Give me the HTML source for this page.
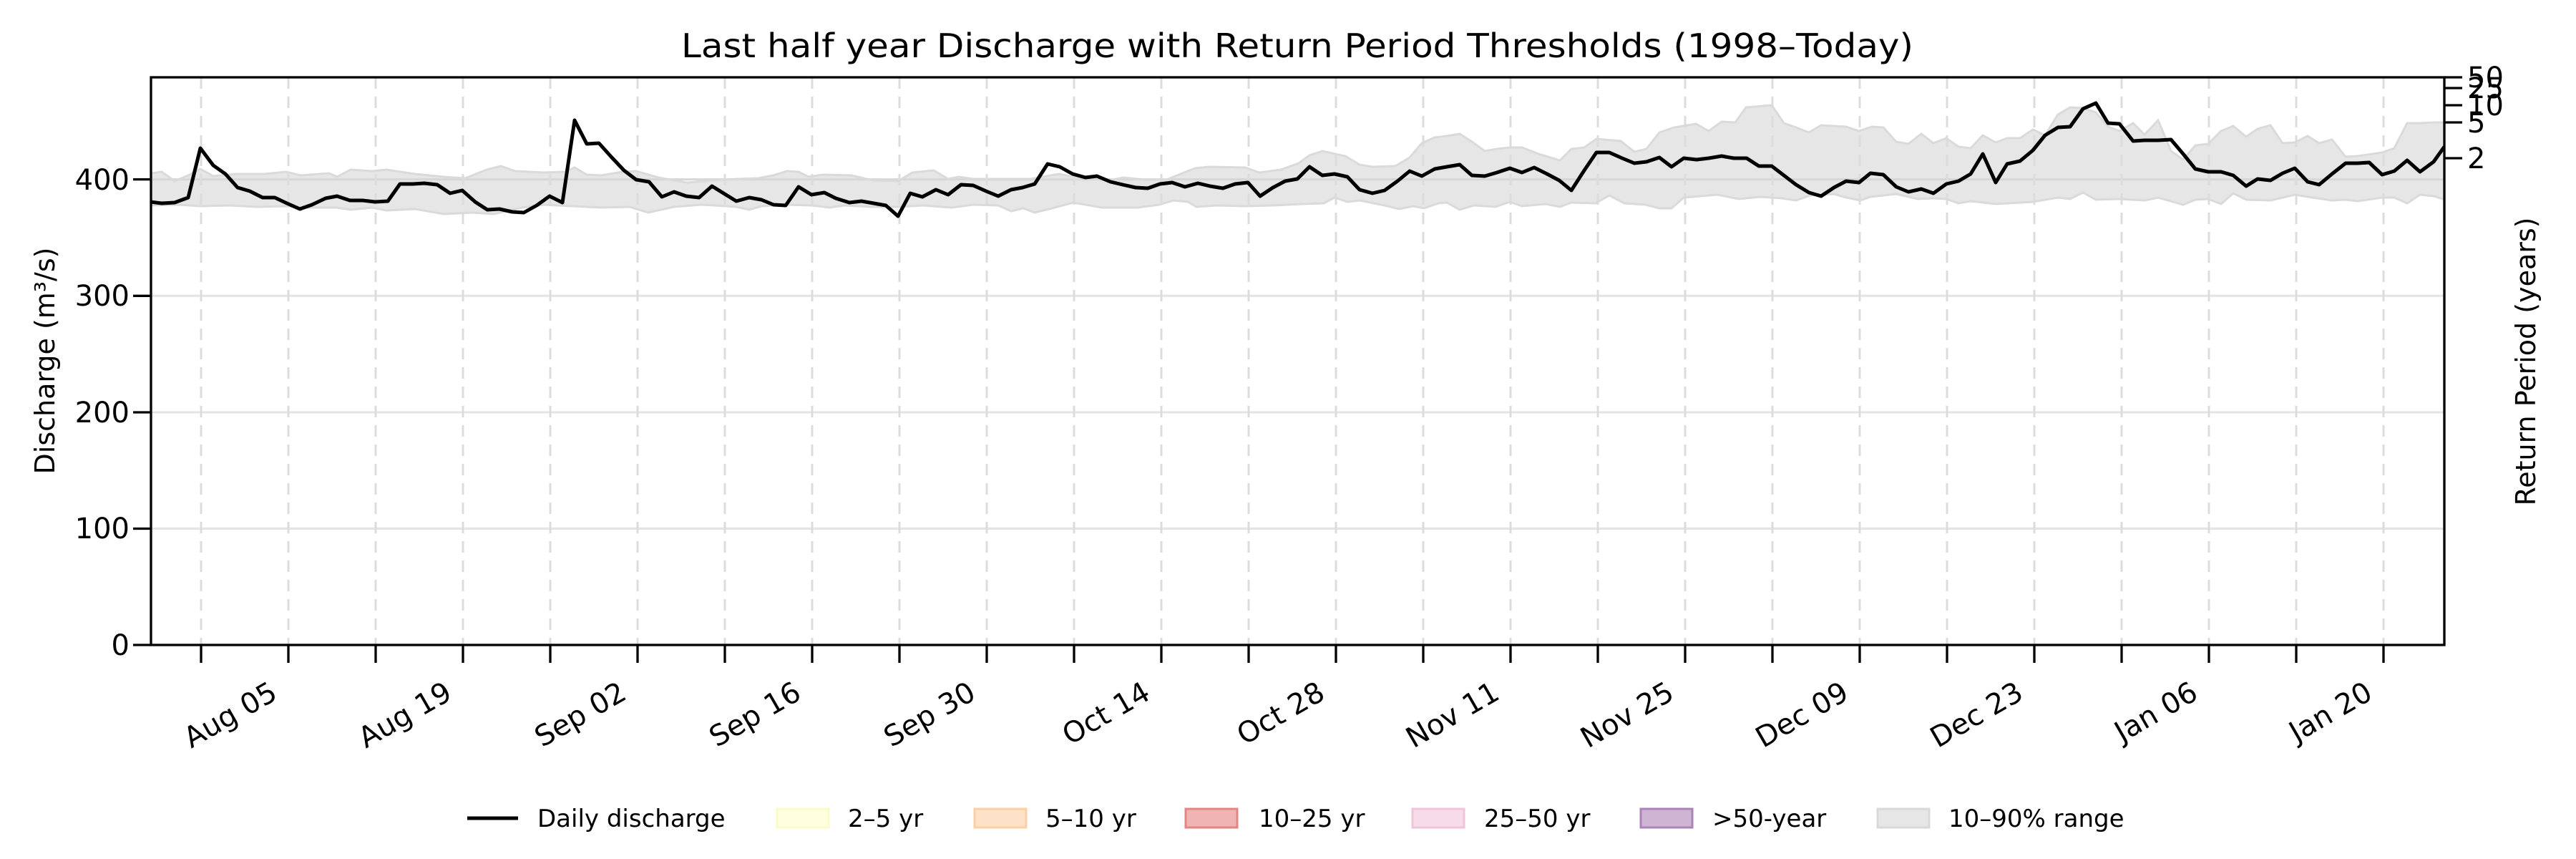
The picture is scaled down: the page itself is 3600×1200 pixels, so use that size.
<!DOCTYPE html>
<html><head><meta charset="utf-8"><style>
html,body{margin:0;padding:0;background:#fff;}
svg{display:block;font-family:"DejaVu Sans","Liberation Sans",sans-serif;}
</style></head><body>
<svg width="3600" height="1200" viewBox="0 0 3600 1200" xmlns="http://www.w3.org/2000/svg">
<defs><clipPath id="pa"><rect x="211" y="108" width="3205" height="793"/></clipPath></defs>
<rect width="3600" height="1200" fill="#fff"/>
<g clip-path="url(#pa)">
<polygon fill="#e6e6e6" points="205,901 205,243 226,240 244,253 263,245 280,236 298,246 330,243 370,243 400,240 420,245 460,242 471,247 490,237 520,239 540,237 580,243 620,247 650,249 680,237 700,232 720,239 760,241 790,240 803,234 820,244 840,245 870,240 889,239 920,248 960,255 1000,252 1029,250 1060,249 1080,245 1100,239 1116,240 1130,247 1150,244 1190,245 1220,252 1255,253 1275,241 1305,238 1325,250 1340,247 1360,250 1440,250 1480,243 1500,247 1530,246 1550,252 1570,248 1600,251 1630,251 1670,235 1690,233 1740,234 1760,241 1790,237 1815,228 1830,217 1848,211 1880,218 1900,230 1918,233 1950,232 1970,220 1987,200 2005,192 2022,190 2040,187 2057,198 2075,211 2092,208 2110,206 2127,206 2150,215 2180,224 2196,208 2214,206 2231,194 2265,197 2284,212 2301,208 2319,185 2340,178 2370,173 2388,183 2406,170 2425,171 2440,150 2476,147 2493,172 2510,178 2528,185 2545,175 2580,177 2598,183 2616,177 2632,178 2650,198 2667,201 2685,187 2702,200 2720,193 2737,205 2754,207 2771,189 2789,199 2805,193 2823,193 2841,181 2858,189 2876,160 2893,150 2911,151 2929,157 2946,177 2962,183 2981,172 2997,188 3016,168 3034,211 3051,223 3068,203 3086,201 3104,183 3121,176 3139,191 3155,180 3173,175 3190,200 3207,199 3225,190 3241,200 3259,195 3278,219 3295,218 3329,213 3346,207 3364,172 3382,172 3401,171 3420,171 3420,901"/>
<polygon fill="#fff" points="205,901 205,287 250,286 280,288 320,287 360,289 400,288 430,290 470,290 490,293 520,290 540,294 580,292 620,299 660,297 690,299 730,290 760,286 800,288 840,290 880,289 906,297 942,289 980,286 1016,288 1029,289 1047,293 1064,288 1098,286 1134,287 1160,290 1180,287 1220,289 1255,289 1290,287 1330,290 1360,286 1395,287 1413,295 1430,291 1446,297 1470,291 1500,283 1540,290 1590,290 1620,286 1640,280 1660,282 1672,289 1700,287 1740,288 1780,287 1820,285 1850,284 1865,276 1883,282 1900,280 1935,287 1955,292 1975,288 1990,291 2010,284 2022,283 2040,293 2060,287 2090,289 2110,282 2127,288 2160,285 2180,289 2196,283 2230,284 2249,273 2270,284 2300,286 2319,291 2336,291 2353,276 2400,272 2430,278 2460,275 2490,277 2510,280 2530,273 2563,271 2580,276 2600,280 2614,275 2650,271 2680,278 2702,277 2720,278 2737,284 2754,281 2789,285 2841,282 2876,276 2893,278 2911,269 2929,279 2962,278 2997,280 3016,276 3051,286 3068,279 3086,278 3104,285 3121,270 3139,279 3173,280 3207,272 3225,275 3259,280 3278,279 3295,281 3329,276 3346,276 3364,284 3382,272 3401,274 3420,280 3420,901"/>
<g stroke="#e4e4e4" stroke-width="3">
<line x1="211" x2="3416" y1="738.5" y2="738.5"/><line x1="211" x2="3416" y1="576" y2="576"/><line x1="211" x2="3416" y1="413.3" y2="413.3"/><line x1="211" x2="3416" y1="250.6" y2="250.6" stroke="#d6d6d6"/>
</g>
<path stroke="#dcdcdc" stroke-width="3" stroke-dasharray="16,11" fill="none" d="M281,108V901M403,108V901M525,108V901M647,108V901M769,108V901M891,108V901M1013,108V901M1135,108V901M1257,108V901M1379,108V901M1501,108V901M1623,108V901M1745,108V901M1867,108V901M1989,108V901M2111,108V901M2233,108V901M2355,108V901M2477,108V901M2599,108V901M2721,108V901M2843,108V901M2965,108V901M3087,108V901M3209,108V901M3331,108V901"/>
<polyline fill="none" stroke="#dadada" stroke-width="3" points="205,243 226,240 244,253 263,245 280,236 298,246 330,243 370,243 400,240 420,245 460,242 471,247 490,237 520,239 540,237 580,243 620,247 650,249 680,237 700,232 720,239 760,241 790,240 803,234 820,244 840,245 870,240 889,239 920,248 960,255 1000,252 1029,250 1060,249 1080,245 1100,239 1116,240 1130,247 1150,244 1190,245 1220,252 1255,253 1275,241 1305,238 1325,250 1340,247 1360,250 1440,250 1480,243 1500,247 1530,246 1550,252 1570,248 1600,251 1630,251 1670,235 1690,233 1740,234 1760,241 1790,237 1815,228 1830,217 1848,211 1880,218 1900,230 1918,233 1950,232 1970,220 1987,200 2005,192 2022,190 2040,187 2057,198 2075,211 2092,208 2110,206 2127,206 2150,215 2180,224 2196,208 2214,206 2231,194 2265,197 2284,212 2301,208 2319,185 2340,178 2370,173 2388,183 2406,170 2425,171 2440,150 2476,147 2493,172 2510,178 2528,185 2545,175 2580,177 2598,183 2616,177 2632,178 2650,198 2667,201 2685,187 2702,200 2720,193 2737,205 2754,207 2771,189 2789,199 2805,193 2823,193 2841,181 2858,189 2876,160 2893,150 2911,151 2929,157 2946,177 2962,183 2981,172 2997,188 3016,168 3034,211 3051,223 3068,203 3086,201 3104,183 3121,176 3139,191 3155,180 3173,175 3190,200 3207,199 3225,190 3241,200 3259,195 3278,219 3295,218 3329,213 3346,207 3364,172 3382,172 3401,171 3420,171"/>
<polyline fill="none" stroke="#dadada" stroke-width="3" points="205,287 250,286 280,288 320,287 360,289 400,288 430,290 470,290 490,293 520,290 540,294 580,292 620,299 660,297 690,299 730,290 760,286 800,288 840,290 880,289 906,297 942,289 980,286 1016,288 1029,289 1047,293 1064,288 1098,286 1134,287 1160,290 1180,287 1220,289 1255,289 1290,287 1330,290 1360,286 1395,287 1413,295 1430,291 1446,297 1470,291 1500,283 1540,290 1590,290 1620,286 1640,280 1660,282 1672,289 1700,287 1740,288 1780,287 1820,285 1850,284 1865,276 1883,282 1900,280 1935,287 1955,292 1975,288 1990,291 2010,284 2022,283 2040,293 2060,287 2090,289 2110,282 2127,288 2160,285 2180,289 2196,283 2230,284 2249,273 2270,284 2300,286 2319,291 2336,291 2353,276 2400,272 2430,278 2460,275 2490,277 2510,280 2530,273 2563,271 2580,276 2600,280 2614,275 2650,271 2680,278 2702,277 2720,278 2737,284 2754,281 2789,285 2841,282 2876,276 2893,278 2911,269 2929,279 2962,278 2997,280 3016,276 3051,286 3068,279 3086,278 3104,285 3121,270 3139,279 3173,280 3207,272 3225,275 3259,280 3278,279 3295,281 3329,276 3346,276 3364,284 3382,272 3401,274 3420,280"/>
<polyline fill="none" stroke="#000" stroke-width="5" stroke-linejoin="round" points="210,282 226,284 244,283 263,276 280,207 298,231 315,243 332,262 349,267 367,276 384,276 401,284 419,292 436,286 455,277 471,274 489,280 507,280 524,282 542,281 559,257 577,257 593,256 611,258 629,270 646,266 664,282 681,293 698,292 716,296 732,297 750,287 768,274 786,283 803,168 820,201 837,200 855,220 872,238 889,251 907,254 925,275 942,268 959,274 977,276 995,260 1016,273 1029,281 1047,276 1064,279 1081,286 1098,287 1116,261 1134,272 1152,269 1168,277 1187,283 1204,281 1221,284 1238,287 1255,302 1272,270 1289,275 1308,265 1325,272 1343,258 1360,259 1378,267 1395,274 1413,265 1429,262 1446,257 1464,229 1481,233 1499,243 1517,248 1533,246 1552,254 1569,258 1587,262 1604,263 1621,257 1638,255 1656,261 1674,256 1691,260 1709,263 1726,257 1744,255 1761,274 1779,262 1796,253 1813,250 1830,233 1848,245 1865,243 1883,247 1900,265 1918,270 1935,266 1953,253 1970,239 1987,246 2005,236 2022,233 2040,230 2057,245 2075,246 2092,241 2110,235 2127,241 2144,234 2162,243 2179,252 2196,266 2214,238 2231,213 2249,213 2267,221 2284,228 2301,226 2319,220 2336,233 2353,221 2371,223 2388,221 2406,218 2423,221 2441,221 2458,232 2476,232 2493,245 2510,258 2528,269 2545,274 2563,262 2580,253 2598,255 2614,242 2632,244 2650,261 2667,268 2685,264 2702,270 2720,257 2737,253 2754,243 2771,215 2789,255 2805,229 2823,225 2841,210 2858,189 2876,178 2893,177 2911,152 2929,144 2946,172 2962,173 2981,197 2997,196 3016,196 3034,195 3051,215 3068,236 3086,240 3104,240 3121,245 3139,260 3155,250 3173,252 3190,242 3207,235 3225,254 3241,258 3259,243 3278,228 3295,228 3311,227 3329,244 3346,239 3364,224 3382,240 3401,226 3416,205"/>
</g>
<rect x="211" y="108" width="3205" height="793" fill="none" stroke="#000" stroke-width="3.3"/>
<path stroke="#000" stroke-width="3.3" fill="none" d="M281,901V926M403,901V926M525,901V926M647,901V926M769,901V926M891,901V926M1013,901V926M1135,901V926M1257,901V926M1379,901V926M1501,901V926M1623,901V926M1745,901V926M1867,901V926M1989,901V926M2111,901V926M2233,901V926M2355,901V926M2477,901V926M2599,901V926M2721,901V926M2843,901V926M2965,901V926M3087,901V926M3209,901V926M3331,901V926M186,901H211M186,738.5H211M186,576H211M186,413.3H211M186,250.6H211M3416,221H3441M3416,171H3441M3416,147H3441M3416,123H3441M3416,108H3441"/>
<g font-size="40" fill="#000" text-anchor="end">
<text x="181" y="915">0</text><text x="181" y="752">100</text><text x="181" y="590">200</text><text x="181" y="427">300</text><text x="181" y="265">400</text>
</g>
<g font-size="40" fill="#000">
<text x="3448" y="235">2</text><text x="3448" y="185">5</text><text x="3448" y="161">10</text><text x="3448" y="137">25</text><text x="3448" y="122">50</text>
</g>
<g font-size="40" fill="#000" text-anchor="end">
<text x="390" y="975" transform="rotate(-30 390 975)">Aug 05</text>
<text x="634" y="975" transform="rotate(-30 634 975)">Aug 19</text>
<text x="878" y="975" transform="rotate(-30 878 975)">Sep 02</text>
<text x="1122" y="975" transform="rotate(-30 1122 975)">Sep 16</text>
<text x="1366" y="975" transform="rotate(-30 1366 975)">Sep 30</text>
<text x="1610" y="975" transform="rotate(-30 1610 975)">Oct 14</text>
<text x="1854" y="975" transform="rotate(-30 1854 975)">Oct 28</text>
<text x="2098" y="975" transform="rotate(-30 2098 975)">Nov 11</text>
<text x="2342" y="975" transform="rotate(-30 2342 975)">Nov 25</text>
<text x="2586" y="975" transform="rotate(-30 2586 975)">Dec 09</text>
<text x="2830" y="975" transform="rotate(-30 2830 975)">Dec 23</text>
<text x="3074" y="975" transform="rotate(-30 3074 975)">Jan 06</text>
<text x="3318" y="975" transform="rotate(-30 3318 975)">Jan 20</text>
</g>
<text x="1813" y="80" font-size="46" text-anchor="middle" textLength="1722" lengthAdjust="spacingAndGlyphs">Last half year Discharge with Return Period Thresholds (1998–Today)</text>
<text transform="translate(76,504) rotate(-90)" font-size="38" text-anchor="middle">Discharge (m³/s)</text>
<text transform="translate(3543,505) rotate(-90)" font-size="38" text-anchor="middle">Return Period (years)</text>
<g font-size="34" fill="#000">
<line x1="653" x2="724" y1="1143" y2="1143" stroke="#000" stroke-width="5"/>
<text x="751" y="1155">Daily discharge</text>
<rect x="1086" y="1130" width="72" height="26" fill="#ffffe0" stroke="#fbfbc8" stroke-width="3"/>
<text x="1185" y="1155">2–5 yr</text>
<rect x="1362" y="1130" width="72" height="26" fill="#fde2c8" stroke="#fccfa6" stroke-width="3"/>
<text x="1461" y="1155">5–10 yr</text>
<rect x="1657" y="1130" width="72" height="26" fill="#efb4b3" stroke="#e38683" stroke-width="3"/>
<text x="1759" y="1155">10–25 yr</text>
<rect x="1974" y="1130" width="72" height="26" fill="#f5dce8" stroke="#efc5da" stroke-width="3"/>
<text x="2074" y="1155">25–50 yr</text>
<rect x="2293" y="1130" width="72" height="26" fill="#cfb4d4" stroke="#aa84b8" stroke-width="3"/>
<text x="2393" y="1155">&gt;50-year</text>
<rect x="2624" y="1130" width="72" height="26" fill="#e6e6e6" stroke="#d8d8d8" stroke-width="3"/>
<text x="2723" y="1155">10–90% range</text>
</g>
</svg>
</body></html>
